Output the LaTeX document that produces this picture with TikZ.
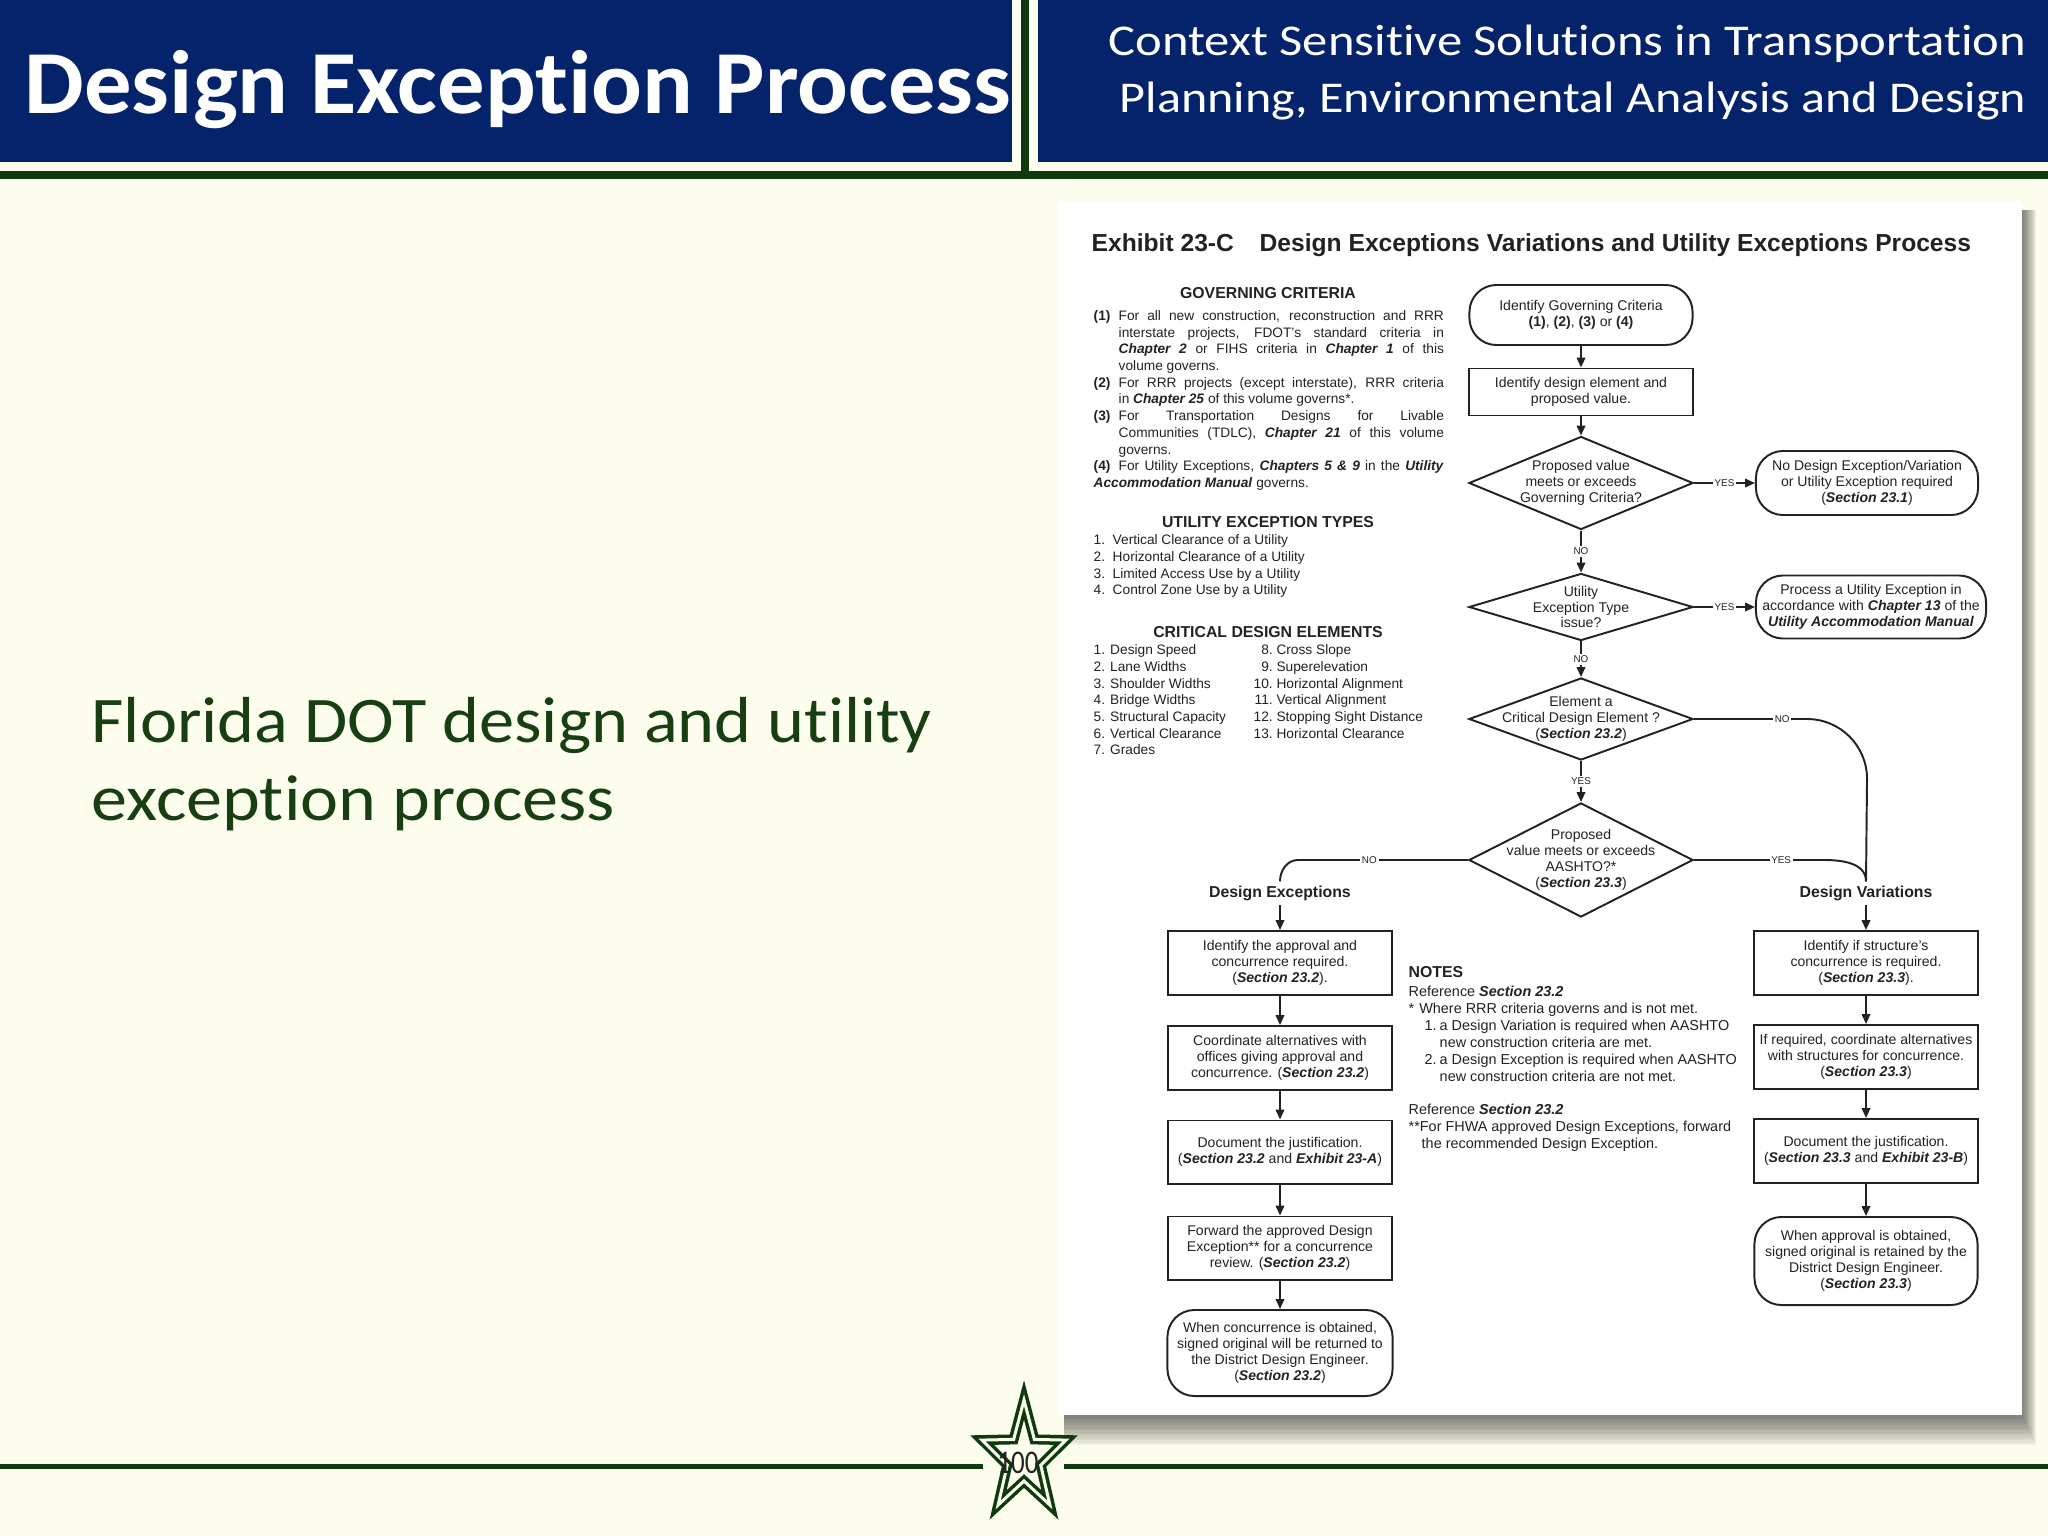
\documentclass[tikz,border=0pt]{standalone}
\usepackage{fontspec}
\usepackage{graphicx}
\setmainfont{Liberation Sans}
\newfontfamily\slidefont[Ligatures=NoCommon]{Carlito}
\usetikzlibrary{positioning,arrows.meta,shapes.geometric}
\definecolor{slideblue}{HTML}{05236B}
\definecolor{slidegreen}{HTML}{0E3A0E}
\definecolor{slidecream}{HTML}{FDFDEE}
\definecolor{bodygreen}{HTML}{173F12}
\definecolor{inkgray}{HTML}{222222}
\newcommand{\bitext}[1]{\textbf{\textit{#1}}}
\newcommand{\boxfont}{\fontsize{4}{4.5}\selectfont}
\newcommand{\listfont}{\fontsize{3.9}{4.75}\selectfont}
\newcommand{\notefont}{\fontsize{4.1}{4.84}\selectfont}
\newcommand{\gcitem}[2]{\par\noindent\hangindent=0.25cm\hangafter=1\makebox[0.25cm][l]{\textbf{#1}}#2}

\begin{document}
\begin{tikzpicture}[x=0.01cm, y=-0.01cm,
    flowbox/.style={draw=inkgray, line width=0.55pt, text=inkgray, align=center, inner sep=0pt,
      minimum width=2.23cm, minimum height=0.64cm, font=\boxfont},
    termbox/.style={flowbox, rounded corners=0.27cm},
    decision/.style={flowbox, diamond, inner sep=-4pt, minimum width=2.24cm},
    flowline/.style={draw=inkgray, line width=0.55pt},
    flowarrow/.style={flowline, -{Triangle[length=2.8pt,width=2.4pt]}},
    yesno/.style={fill=white, text=inkgray, inner sep=0.5pt, font=\fontsize{2.8}{3}\selectfont},
    headtext/.style={text=inkgray, inner sep=1pt, font=\fontsize{4.5}{5}\selectfont\bfseries},
    listtext/.style={text=inkgray, inner sep=0pt, align=left, font=\listfont},
    slidetext/.style={inner sep=0pt}
  ]
  \useasboundingbox (0,0) rectangle (2048,1536);
  \fill[slidecream] (0,0) rectangle (2048,1536);

  % header bands
  \fill[slideblue] (0,0) rectangle (1012,162);
  \fill[slideblue] (1038,0) rectangle (2048,162);
  \fill[slidegreen] (1021,0) rectangle (1029,172);
  \fill[slidegreen] (0,171) rectangle (2048,179);
  \node[slidetext, anchor=base west, text=white] (title) at (24,113)
    {\resizebox{9.86cm}{\height}{\slidefont\fontsize{25.6}{30}\selectfont\bfseries Design Exception Process}};
  \node[slidetext, anchor=base east, text=white] (subone) at (2027,55)
    {\resizebox{9.17cm}{\height}{\slidefont\fontsize{12.5}{15}\selectfont Context Sensitive Solutions in Transportation}};
  \node[slidetext, anchor=base east, text=white] (subtwo) at (2027,112)
    {\resizebox{9.06cm}{\height}{\slidefont\fontsize{12.5}{15}\selectfont Planning, Environmental Analysis and Design}};

  % body text
  \node[slidetext, anchor=base west, text=bodygreen] (bodyone) at (91,742)
    {\resizebox{8.40cm}{\height}{\slidefont\fontsize{18.5}{22}\selectfont Florida DOT design and utility}};
  \node[slidetext, anchor=base west, text=bodygreen] (bodytwo) at (91,820)
    {\resizebox{5.23cm}{\height}{\slidefont\fontsize{18.5}{22}\selectfont exception process}};

  % exhibit sheet
  \foreach \k in {1,...,12}
    \fill[black, opacity=0.05] (1064,210) rectangle ({2022+1.2*\k},{1415+2.5*\k});
  \fill[white] (1058,202) rectangle (2022,1415);

  \node[slidetext, anchor=base west, text=inkgray, font=\fontsize{7}{8}\selectfont\bfseries] (exno) at (1091,251) {Exhibit 23-C};
  \node[slidetext, anchor=base west, text=inkgray, font=\fontsize{7}{8}\selectfont\bfseries] (extitle) at (1259,251)
    {Design Exceptions Variations and Utility Exceptions Process};

  % governing criteria
  \node[headtext, anchor=base, inner sep=0pt] (govhead) at (1268,298) {GOVERNING CRITERIA};
  \node[listtext, anchor=north west, text width=3.5cm, align=justify] (govlist) at (1093,303) {%
    \gcitem{(1)}{For all new construction, reconstruction and RRR\linebreak interstate projects, FDOT's standard criteria in\linebreak
      \bitext{Chapter 2} or FIHS criteria in \bitext{Chapter 1} of this\linebreak volume governs.}
    \gcitem{(2)}{For RRR projects (except interstate), RRR criteria\linebreak in \bitext{Chapter 25} of this volume governs*.}
    \gcitem{(3)}{For Transportation Designs for Livable\linebreak Communities (TDLC), \bitext{Chapter 21} of this volume\linebreak governs.}
    \gcitem{(4)}{For Utility Exceptions, \bitext{Chapters 5 \& 9} in the \bitext{Utility}\linebreak \bitext{Accommodation Manual} governs.}};

  % utility exception types
  \node[headtext, anchor=base, inner sep=0pt] (utilhead) at (1268,527) {UTILITY EXCEPTION TYPES};
  \node[listtext, anchor=north west] (utillist) at (1093,534) {%
    \makebox[0.19cm][l]{1.}Vertical Clearance of a Utility\\
    \makebox[0.19cm][l]{2.}Horizontal Clearance of a Utility\\
    \makebox[0.19cm][l]{3.}Limited Access Use by a Utility\\
    \makebox[0.19cm][l]{4.}Control Zone Use by a Utility};

  % critical design elements
  \node[headtext, anchor=base, inner sep=0pt] (crithead) at (1268,637) {CRITICAL DESIGN ELEMENTS};
  \node[listtext, anchor=north west] (critleft) at (1093,644) {%
    1. Design Speed\\2. Lane Widths\\3. Shoulder Widths\\4. Bridge Widths\\
    5. Structural Capacity\\6. Vertical Clearance\\7. Grades};
  \node[listtext, anchor=north west] (critright) at (1253,644) {%
    \makebox[0.19cm][r]{8.} Cross Slope\\\makebox[0.19cm][r]{9.} Superelevation\\
    \makebox[0.19cm][r]{10.} Horizontal Alignment\\\makebox[0.19cm][r]{11.} Vertical Alignment\\
    \makebox[0.19cm][r]{12.} Stopping Sight Distance\\\makebox[0.19cm][r]{13.} Horizontal Clearance};

  % flow: top part
  \node[termbox, minimum height=0.60cm] (govcrit) at (1581,315)
    {Identify Governing Criteria\\\textbf{(1)}, \textbf{(2)}, \textbf{(3)} or \textbf{(4)}};
  \node[flowbox, minimum height=0.47cm] (idelem) at (1581,392) {Identify design element and\\proposed value.};
  \node[decision, aspect=2.4, minimum height=0.93cm] (meetsgov) at (1581,483) {Proposed value\\meets or exceeds\\Governing Criteria?};
  \node[termbox, minimum width=2.22cm] (noexc) at (1867,483)
    {No Design Exception/Variation\\or Utility Exception required\\(\bitext{Section 23.1})};
  \node[decision, aspect=3.34, minimum height=0.67cm] (utiltype) at (1581,607) {Utility\\Exception Type\\issue?};
  \node[termbox, minimum width=2.30cm, minimum height=0.63cm] (utilexc) at (1871,607)
    {Process a Utility Exception in\\accordance with \bitext{Chapter 13} of the\\\bitext{Utility Accommodation Manual}};
  \node[decision, aspect=2.73, minimum height=0.82cm] (critelem) at (1581,719)
    {Element a\\Critical Design Element ?\\(\bitext{Section 23.2})};
  \node[decision, aspect=1.96, minimum height=1.14cm] (meetsaashto) at (1581,860)
    {Proposed\\value meets or exceeds\\AASHTO?*\\(\bitext{Section 23.3})};

  \draw[flowarrow] (govcrit) -- (idelem);
  \draw[flowarrow] (idelem) -- (meetsgov);
  \draw[flowarrow] (meetsgov) -- node[yesno]{YES} (noexc);
  \draw[flowarrow] (meetsgov) -- node[yesno]{NO} (utiltype);
  \draw[flowarrow] (utiltype) -- node[yesno]{YES} (utilexc);
  \draw[flowarrow] (utiltype) -- node[yesno]{NO} (critelem);
  \draw[flowarrow] (critelem) -- node[yesno]{YES} (meetsaashto);

  % branch headers
  \node[headtext] (dehead) at (1280,893) {Design Exceptions};
  \node[headtext] (dvhead) at (1866,893) {Design Variations};
  \draw[flowline] (critelem.east) -- node[yesno, pos=0.78]{NO} ++(113,0) to[out=0, in=90] ++(60,60) -- (dvhead.north);
  \draw[flowline] (meetsaashto.east) -- node[yesno, pos=0.67]{YES} ++(130,0) to[out=0, in=90] (dvhead.north);
  \draw[flowline] (meetsaashto.west) -- node[yesno, pos=0.58]{NO} ++(-170,0) to[out=180, in=90] (dehead.north);

  % design exceptions column
  \node[flowbox] (approval) at (1280,963) {Identify the approval and\\concurrence required.\\(\bitext{Section 23.2}).};
  \node[flowbox] (coordde) at (1280,1058) {Coordinate alternatives with\\offices giving approval and\\concurrence. (\bitext{Section 23.2})};
  \node[flowbox, minimum height=0.63cm] (justde) at (1280,1152) {Document the justification.\\(\bitext{Section 23.2} and \bitext{Exhibit 23-A})};
  \node[flowbox, minimum height=0.63cm] (forward) at (1280,1248) {Forward the approved Design\\Exception** for a concurrence\\review. (\bitext{Section 23.2})};
  \node[termbox, minimum width=2.25cm, minimum height=0.86cm] (returned) at (1280,1353)
    {When concurrence is obtained,\\signed original will be returned to\\the District Design Engineer.\\(\bitext{Section 23.2})};
  \draw[flowarrow] (dehead) -- (approval);
  \draw[flowarrow] (approval) -- (coordde);
  \draw[flowarrow] (coordde) -- (justde);
  \draw[flowarrow] (justde) -- (forward);
  \draw[flowarrow] (forward) -- (returned);

  % design variations column
  \node[flowbox] (structid) at (1866,963) {Identify if structure's\\concurrence is required.\\(\bitext{Section 23.3}).};
  \node[flowbox] (coorddv) at (1866,1057) {If required, coordinate alternatives\\with structures for concurrence.\\(\bitext{Section 23.3})};
  \node[flowbox] (justdv) at (1866,1151) {Document the justification.\\(\bitext{Section 23.3} and \bitext{Exhibit 23-B})};
  \node[termbox, minimum height=0.88cm] (retained) at (1866,1261)
    {When approval is obtained,\\signed original is retained by the\\District Design Engineer.\\(\bitext{Section 23.3})};
  \draw[flowarrow] (dvhead) -- (structid);
  \draw[flowarrow] (structid) -- (coorddv);
  \draw[flowarrow] (coorddv) -- (justdv);
  \draw[flowarrow] (justdv) -- (retained);

  % notes
  \node[headtext, anchor=base west, inner sep=0pt] (notehead) at (1408,977) {NOTES};
  \node[listtext, anchor=north west, font=\notefont] (notes) at (1408,985) {%
    Reference \bitext{Section 23.2}\\
    *\hspace{0.05cm}Where RRR criteria governs and is not met.\\
    \hspace*{0.16cm}\makebox[0.15cm][l]{1.}a Design Variation is required when AASHTO\\
    \hspace*{0.31cm}new construction criteria are met.\\
    \hspace*{0.16cm}\makebox[0.15cm][l]{2.}a Design Exception is required when AASHTO\\
    \hspace*{0.31cm}new construction criteria are not met.\\[4.6pt]
    Reference \bitext{Section 23.2}\\
    **For FHWA approved Design Exceptions, forward\\
    \hspace*{0.13cm}the recommended Design Exception.};

  % footer
  \draw[slidegreen, line width=0.05cm] (0,1466) -- (983,1466);
  \draw[slidegreen, line width=0.05cm] (1064,1466) -- (2048,1466);
  \draw[draw=slidegreen, line width=0.035cm, double=slidecream, double distance=0.03cm, fill=slidecream]
    (1024,1400) \foreach \k in {0,...,4} {
      -- ({1024+17.6*cos(-54+72*\k)},{1458+23*sin(-54+72*\k)})
      -- ({1024+44*cos(-18+72*\k)},{1458+58*sin(-18+72*\k)}) } -- cycle;
  \node[slidetext, text=inkgray] (pageno) at (1018,1463)
    {\resizebox{0.41cm}{\height}{\slidefont\fontsize{9.4}{10}\selectfont 100}};
\end{tikzpicture}
\end{document}
